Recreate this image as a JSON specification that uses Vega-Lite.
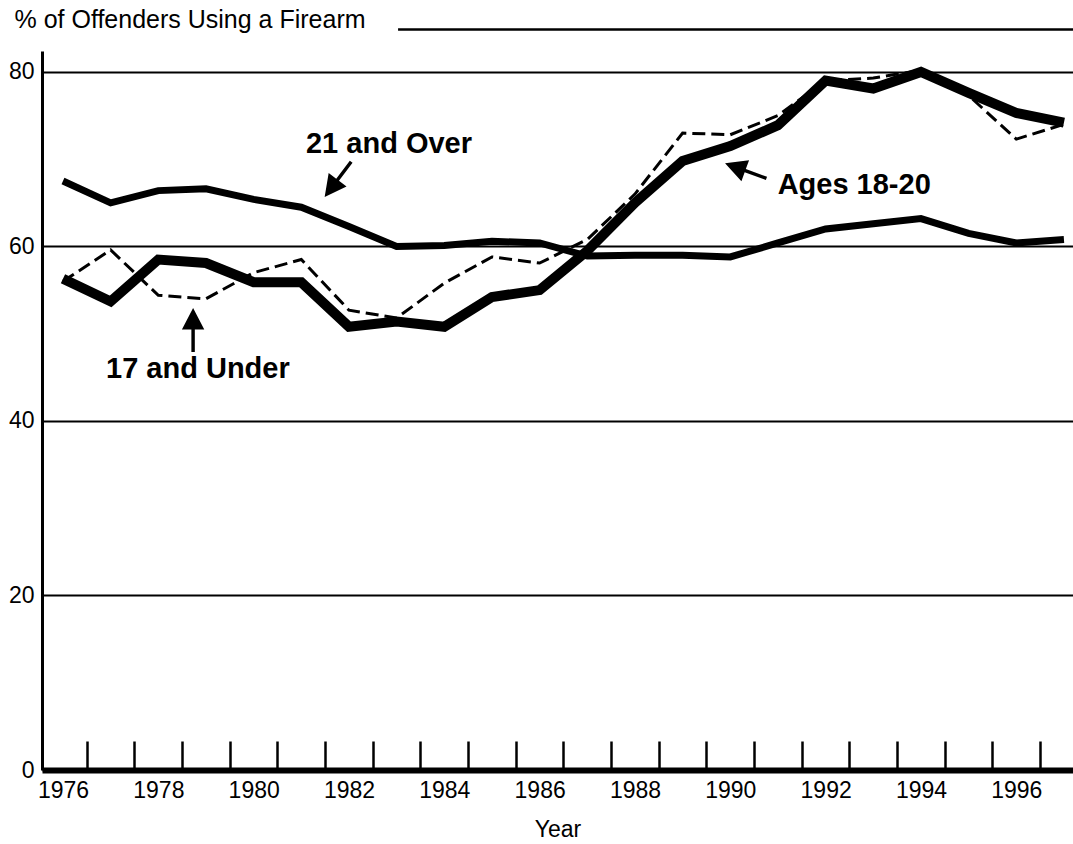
{
  "$schema": "https://vega.github.io/schema/vega-lite/v6.json",
  "width": 1031,
  "height": 719,
  "autosize": {"type": "none"},
  "padding": {"left": 42, "top": 51, "right": 0, "bottom": 74},
  "background": "white",
  "config": {"view": {"stroke": null}, "font": "Liberation Sans"},
  "data": {
    "values": [
      {"year": 1976, "group": "21 and Over", "pct": 67.5},
      {"year": 1977, "group": "21 and Over", "pct": 65.0},
      {"year": 1978, "group": "21 and Over", "pct": 66.4},
      {"year": 1979, "group": "21 and Over", "pct": 66.6},
      {"year": 1980, "group": "21 and Over", "pct": 65.4},
      {"year": 1981, "group": "21 and Over", "pct": 64.5},
      {"year": 1982, "group": "21 and Over", "pct": 62.3},
      {"year": 1983, "group": "21 and Over", "pct": 60.0},
      {"year": 1984, "group": "21 and Over", "pct": 60.1},
      {"year": 1985, "group": "21 and Over", "pct": 60.6},
      {"year": 1986, "group": "21 and Over", "pct": 60.4},
      {"year": 1987, "group": "21 and Over", "pct": 58.9},
      {"year": 1988, "group": "21 and Over", "pct": 59.0},
      {"year": 1989, "group": "21 and Over", "pct": 59.0},
      {"year": 1990, "group": "21 and Over", "pct": 58.8},
      {"year": 1991, "group": "21 and Over", "pct": 60.4},
      {"year": 1992, "group": "21 and Over", "pct": 62.0},
      {"year": 1993, "group": "21 and Over", "pct": 62.6},
      {"year": 1994, "group": "21 and Over", "pct": 63.2},
      {"year": 1995, "group": "21 and Over", "pct": 61.5},
      {"year": 1996, "group": "21 and Over", "pct": 60.4},
      {"year": 1997, "group": "21 and Over", "pct": 60.8},
      {"year": 1976, "group": "Ages 18-20", "pct": 56.3},
      {"year": 1977, "group": "Ages 18-20", "pct": 53.7},
      {"year": 1978, "group": "Ages 18-20", "pct": 58.5},
      {"year": 1979, "group": "Ages 18-20", "pct": 58.1},
      {"year": 1980, "group": "Ages 18-20", "pct": 55.9},
      {"year": 1981, "group": "Ages 18-20", "pct": 55.9},
      {"year": 1982, "group": "Ages 18-20", "pct": 50.8},
      {"year": 1983, "group": "Ages 18-20", "pct": 51.4},
      {"year": 1984, "group": "Ages 18-20", "pct": 50.8},
      {"year": 1985, "group": "Ages 18-20", "pct": 54.2},
      {"year": 1986, "group": "Ages 18-20", "pct": 55.0},
      {"year": 1987, "group": "Ages 18-20", "pct": 59.5},
      {"year": 1988, "group": "Ages 18-20", "pct": 65.0},
      {"year": 1989, "group": "Ages 18-20", "pct": 69.8},
      {"year": 1990, "group": "Ages 18-20", "pct": 71.5},
      {"year": 1991, "group": "Ages 18-20", "pct": 73.9},
      {"year": 1992, "group": "Ages 18-20", "pct": 79.0},
      {"year": 1993, "group": "Ages 18-20", "pct": 78.1},
      {"year": 1994, "group": "Ages 18-20", "pct": 80.0},
      {"year": 1995, "group": "Ages 18-20", "pct": 77.6},
      {"year": 1996, "group": "Ages 18-20", "pct": 75.3},
      {"year": 1997, "group": "Ages 18-20", "pct": 74.2},
      {"year": 1976, "group": "17 and Under", "pct": 56.0},
      {"year": 1977, "group": "17 and Under", "pct": 59.6},
      {"year": 1978, "group": "17 and Under", "pct": 54.4},
      {"year": 1979, "group": "17 and Under", "pct": 54.0},
      {"year": 1980, "group": "17 and Under", "pct": 57.0},
      {"year": 1981, "group": "17 and Under", "pct": 58.5},
      {"year": 1982, "group": "17 and Under", "pct": 52.7},
      {"year": 1983, "group": "17 and Under", "pct": 51.8},
      {"year": 1984, "group": "17 and Under", "pct": 55.8},
      {"year": 1985, "group": "17 and Under", "pct": 58.8},
      {"year": 1986, "group": "17 and Under", "pct": 58.1},
      {"year": 1987, "group": "17 and Under", "pct": 60.8},
      {"year": 1988, "group": "17 and Under", "pct": 66.0},
      {"year": 1989, "group": "17 and Under", "pct": 73.0},
      {"year": 1990, "group": "17 and Under", "pct": 72.8},
      {"year": 1991, "group": "17 and Under", "pct": 75.0},
      {"year": 1992, "group": "17 and Under", "pct": 79.0},
      {"year": 1993, "group": "17 and Under", "pct": 79.3},
      {"year": 1994, "group": "17 and Under", "pct": 80.2},
      {"year": 1995, "group": "17 and Under", "pct": 77.3},
      {"year": 1996, "group": "17 and Under", "pct": 72.3},
      {"year": 1997, "group": "17 and Under", "pct": 74.0}
    ]
  },
  "encoding": {
    "x": {
      "field": "year",
      "type": "quantitative",
      "scale": {"domain": [1975.56, 1997.19], "nice": false, "zero": false},
      "axis": {
        "values": [1976.5, 1977.5, 1978.5, 1979.5, 1980.5, 1981.5, 1982.5, 1983.5, 1984.5, 1985.5, 1986.5, 1987.5, 1988.5, 1989.5, 1990.5, 1991.5, 1992.5, 1993.5, 1994.5, 1995.5, 1996.5],
        "labelExpr": "(datum.value - 0.5) % 2 == 0 ? format(datum.value - 0.5, 'd') : ''",
        "labelOffset": -23.8,
        "tickSize": -29,
        "tickWidth": 2.5,
        "tickColor": "black",
        "labelPadding": 38,
        "labelFontSize": 23,
        "labelColor": "black",
        "labelOverlap": false,
        "labelBound": false,
        "labelFlush": false,
        "domainColor": "black",
        "domainWidth": 6,
        "grid": false,
        "title": "Year",
        "titleFontSize": 23,
        "titleFontWeight": "normal",
        "titleColor": "black",
        "titlePadding": 16
      }
    },
    "y": {
      "field": "pct",
      "type": "quantitative",
      "scale": {"domain": [0, 82.4], "nice": false, "zero": true},
      "axis": {
        "values": [0, 20, 40, 60, 80],
        "grid": true,
        "gridColor": "black",
        "gridWidth": 2,
        "gridOpacity": 1,
        "ticks": false,
        "domainColor": "black",
        "domainWidth": 3,
        "labelFontSize": 23,
        "labelColor": "black",
        "labelPadding": 8,
        "title": "% of Offenders Using a Firearm",
        "titleAngle": 0,
        "titleAlign": "left",
        "titleBaseline": "alphabetic",
        "titleX": -28,
        "titleY": -24,
        "titleFontSize": 25,
        "titleFontWeight": "normal",
        "titleColor": "black"
      }
    }
  },
  "layer": [
    {
      "data": {"values": [{"year": 1983.03, "year_end": 1997.19, "pct": 84.86}]},
      "mark": {"type": "rule", "color": "black", "strokeWidth": 2.5, "clip": false},
      "encoding": {
        "x2": {"field": "year_end"}
      }
    },
    {
      "transform": [{"filter": {"field": "group", "equal": "Ages 18-20"}}],
      "mark": {"type": "line", "color": "black", "strokeWidth": 10, "strokeJoin": "miter", "strokeCap": "butt"}
    },
    {
      "transform": [{"filter": {"field": "group", "equal": "21 and Over"}}],
      "mark": {"type": "line", "color": "black", "strokeWidth": 7, "strokeJoin": "miter", "strokeCap": "butt"}
    },
    {
      "transform": [{"filter": {"field": "group", "equal": "17 and Under"}}],
      "mark": {"type": "line", "color": "black", "strokeWidth": 3, "strokeDash": [13, 6], "strokeJoin": "miter", "strokeCap": "butt"}
    },
    {
      "data": {
        "values": [
          {"label": "21 and Over", "year": 1982.84, "pct": 70.7},
          {"label": "17 and Under", "year": 1978.83, "pct": 44.95},
          {"label": "Ages 18-20", "year": 1992.6, "pct": 66.0}
        ]
      },
      "mark": {"type": "text", "font": "Liberation Sans", "fontSize": 29, "fontWeight": "bold", "align": "center", "baseline": "alphabetic", "color": "black"},
      "encoding": {"text": {"field": "label"}}
    },
    {
      "data": {"values": [
        {"label": "21 and Over", "year": 1981.49, "pct": 65.67}
      ]},
      "mark": {"type": "point", "shape": "M0,0L0.52,1L0.08,1L0.08,2.05L-0.08,2.05L-0.08,1L-0.52,1Z", "size": 1849, "angle": 217, "filled": true, "color": "black", "opacity": 1, "strokeWidth": 0}
    },
    {
      "data": {"values": [
        {"label": "17 and Under", "year": 1978.73, "pct": 52.95}
      ]},
      "mark": {"type": "point", "shape": "M0,0L0.52,1L0.08,1L0.08,2.05L-0.08,2.05L-0.08,1L-0.52,1Z", "size": 1849, "angle": 0, "filled": true, "color": "black", "opacity": 1, "strokeWidth": 0}
    },
    {
      "data": {"values": [
        {"label": "Ages 18-20", "year": 1989.89, "pct": 69.53}
      ]},
      "mark": {"type": "point", "shape": "M0,0L0.52,1L0.08,1L0.08,2.05L-0.08,2.05L-0.08,1L-0.52,1Z", "size": 1849, "angle": 290, "filled": true, "color": "black", "opacity": 1, "strokeWidth": 0}
    }
  ]
}
